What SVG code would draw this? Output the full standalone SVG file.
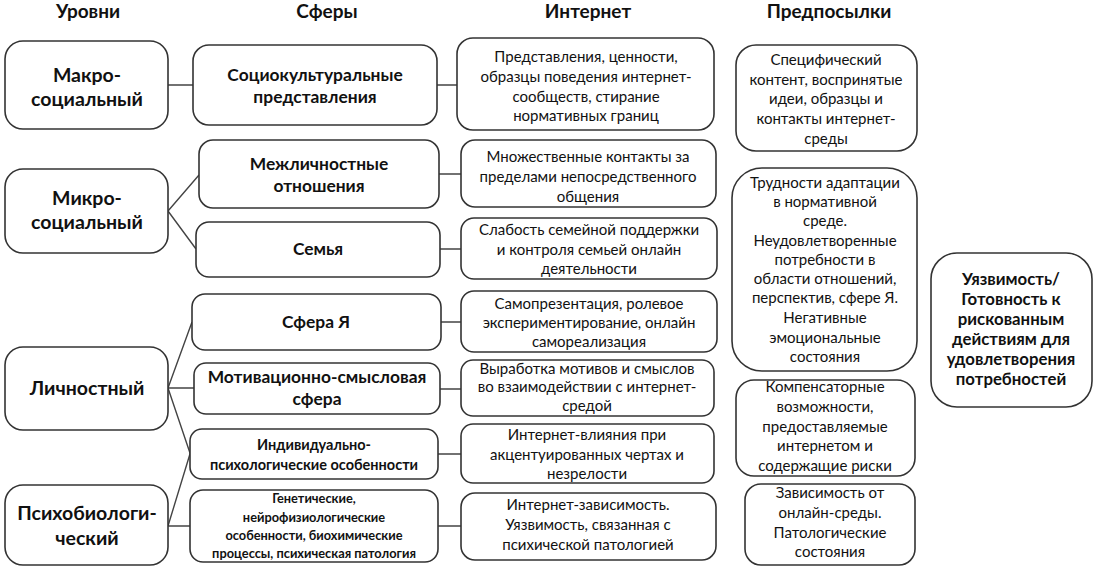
<svg xmlns="http://www.w3.org/2000/svg" width="1104" height="574" viewBox="0 0 1104 574">
<style>
.b{fill:#fff;stroke:#333;stroke-width:1.6}
.c{stroke:#444;stroke-width:1.4;fill:none}
text{font-family:Lato,"Open Sans","Liberation Sans",sans-serif;fill:#111;text-anchor:middle}
.h{font-size:19px;font-weight:bold}
.l{font-size:19.5px;font-weight:bold}
.s{font-size:17.4px;font-weight:bold}
.s2{font-size:14.5px;font-weight:bold}
.s3{font-size:12.8px;font-weight:bold}
.i{font-size:15px}
.f{font-size:16.8px;font-weight:bold}
</style>
<rect width="1104" height="574" fill="#fff"/>
<g id="headers">
<text class="h" x="88" y="18">Уровни</text>
<text class="h" x="327" y="18">Сферы</text>
<text class="h" x="588" y="18">Интернет</text>
<text class="h" x="829" y="18">Предпосылки</text>
</g>
<g id="connectors">
<path class="c" d="M168 85H193M437 85H457M168 211L199 175M168 211L196 249M439 174H461M440 249H461M168 388L192 322M168 388H194M168 388L192 459M168 526L193 444M168 526H190M441 322H461M440 389H461M438 454H461M438 526H461"/>
</g>
<g id="lvl-macro"><rect class="b" x="5" y="41" width="163" height="88" rx="18"/><text class="l" x="87" y="82">Макро-</text><text class="l" x="87" y="106">социальный</text></g>
<g id="lvl-micro"><rect class="b" x="5" y="169" width="163" height="84" rx="18"/><text class="l" x="87" y="205">Микро-</text><text class="l" x="87" y="229">социальный</text></g>
<g id="lvl-pers"><rect class="b" x="5" y="347" width="163" height="83" rx="18"/><text class="l" x="87" y="395">Личностный</text></g>
<g id="lvl-psycho"><rect class="b" x="5" y="485" width="163" height="80" rx="18"/><text class="l" x="87" y="520">Психобиологи-</text><text class="l" x="87" y="545">ческий</text></g>

<g id="sph-socio"><rect class="b" x="193" y="45" width="244" height="80" rx="16"/><text class="s" x="315" y="81">Социокультуральные</text><text class="s" x="315" y="103">представления</text></g>
<g id="sph-inter"><rect class="b" x="199" y="140" width="240" height="68" rx="14"/><text class="s" x="319" y="170">Межличностные</text><text class="s" x="319" y="192">отношения</text></g>
<g id="sph-family"><rect class="b" x="196" y="222" width="244" height="55" rx="13"/><text class="s" x="318" y="255">Семья</text></g>
<g id="sph-self"><rect class="b" x="192" y="294" width="249" height="56" rx="13"/><text class="s" x="316" y="328">Сфера Я</text></g>
<g id="sph-motiv"><rect class="b" x="194" y="363" width="246" height="51" rx="12"/><text class="s" x="317" y="383">Мотивационно-смысловая</text><text class="s" x="317" y="405">сфера</text></g>
<g id="sph-indiv"><rect class="b" x="190" y="429" width="248" height="50" rx="12"/><text class="s2" x="314" y="450">Индивидуально-</text><text class="s2" x="314" y="470">психологические особенности</text></g>
<g id="sph-gen"><rect class="b" x="190" y="490" width="248" height="72" rx="13"/><text class="s3" x="314" y="503">Генетические,</text><text class="s3" x="314" y="522">нейрофизиологические</text><text class="s3" x="314" y="540">особенности, биохимические</text><text class="s3" x="314" y="558">процессы, психическая патология</text></g>

<g id="int-1"><rect class="b" x="457" y="38" width="257" height="92" rx="16"/><text class="i" x="586" y="62">Представления, ценности,</text><text class="i" x="586" y="82">образцы поведения интернет-</text><text class="i" x="586" y="102">сообществ, стирание</text><text class="i" x="586" y="121">нормативных границ</text></g>
<g id="int-2"><rect class="b" x="461" y="140" width="255" height="67" rx="14"/><text class="i" x="588" y="162">Множественные контакты за</text><text class="i" x="588" y="182">пределами непосредственного</text><text class="i" x="588" y="202">общения</text></g>
<g id="int-3"><rect class="b" x="461" y="218" width="256" height="61" rx="13"/><text class="i" x="589" y="235">Слабость семейной поддержки</text><text class="i" x="589" y="255">и контроля семьей онлайн</text><text class="i" x="589" y="274">деятельности</text></g>
<g id="int-4"><rect class="b" x="461" y="291" width="256" height="61" rx="13"/><text class="i" x="589" y="309">Самопрезентация, ролевое</text><text class="i" x="589" y="328">экспериментирование, онлайн</text><text class="i" x="589" y="347">самореализация</text></g>
<g id="int-5"><rect class="b" x="461" y="360" width="253" height="56" rx="12"/><text class="i" x="587" y="374">Выработка мотивов и смыслов</text><text class="i" x="587" y="392">во взаимодействии с интернет-</text><text class="i" x="587" y="411">средой</text></g>
<g id="int-6"><rect class="b" x="461" y="424" width="253" height="59" rx="12"/><text class="i" x="587" y="440">Интернет-влияния при</text><text class="i" x="587" y="460">акцентуированных чертах и</text><text class="i" x="587" y="479">незрелости</text></g>
<g id="int-7"><rect class="b" x="461" y="493" width="255" height="67" rx="14"/><text class="i" x="588" y="510">Интернет-зависимость.</text><text class="i" x="588" y="530">Уязвимость, связанная с</text><text class="i" x="588" y="550">психической патологией</text></g>

<g id="pre-1"><rect class="b" x="736" y="45" width="181" height="106" rx="20"/><text class="i" x="826" y="65">Специфический</text><text class="i" x="826" y="85">контент, воспринятые</text><text class="i" x="826" y="104">идеи, образцы и</text><text class="i" x="826" y="124">контакты интернет-</text><text class="i" x="826" y="144">среды</text></g>
<g id="pre-2"><rect class="b" x="732" y="168" width="185" height="203" rx="30"/><text class="i" x="825" y="188">Трудности адаптации</text><text class="i" x="825" y="207">в нормативной</text><text class="i" x="825" y="226">среде.</text><text class="i" x="825" y="246">Неудовлетворенные</text><text class="i" x="825" y="265">потребности в</text><text class="i" x="825" y="284">области отношений,</text><text class="i" x="825" y="303">перспектив, сфере Я.</text><text class="i" x="825" y="323">Негативные</text><text class="i" x="825" y="343">эмоциональные</text><text class="i" x="825" y="362">состояния</text></g>
<g id="pre-3"><rect class="b" x="736" y="380" width="179" height="96" rx="18"/><text class="i" x="825" y="392">Компенсаторные</text><text class="i" x="825" y="412">возможности,</text><text class="i" x="825" y="432">предоставляемые</text><text class="i" x="825" y="451">интернетом и</text><text class="i" x="825" y="471">содержащие риски</text></g>
<g id="pre-4"><rect class="b" x="745" y="484" width="170" height="81" rx="16"/><text class="i" x="830" y="498">Зависимость от</text><text class="i" x="830" y="518">онлайн-среды.</text><text class="i" x="830" y="538">Патологические</text><text class="i" x="830" y="557">состояния</text></g>

<g id="result"><rect class="b" x="931" y="253" width="161" height="154" rx="26"/><text class="f" x="1011" y="285">Уязвимость/</text><text class="f" x="1011" y="305">Готовность к</text><text class="f" x="1011" y="325">рискованным</text><text class="f" x="1011" y="345">действиям для</text><text class="f" x="1011" y="365">удовлетворения</text><text class="f" x="1011" y="385">потребностей</text></g>
</svg>
